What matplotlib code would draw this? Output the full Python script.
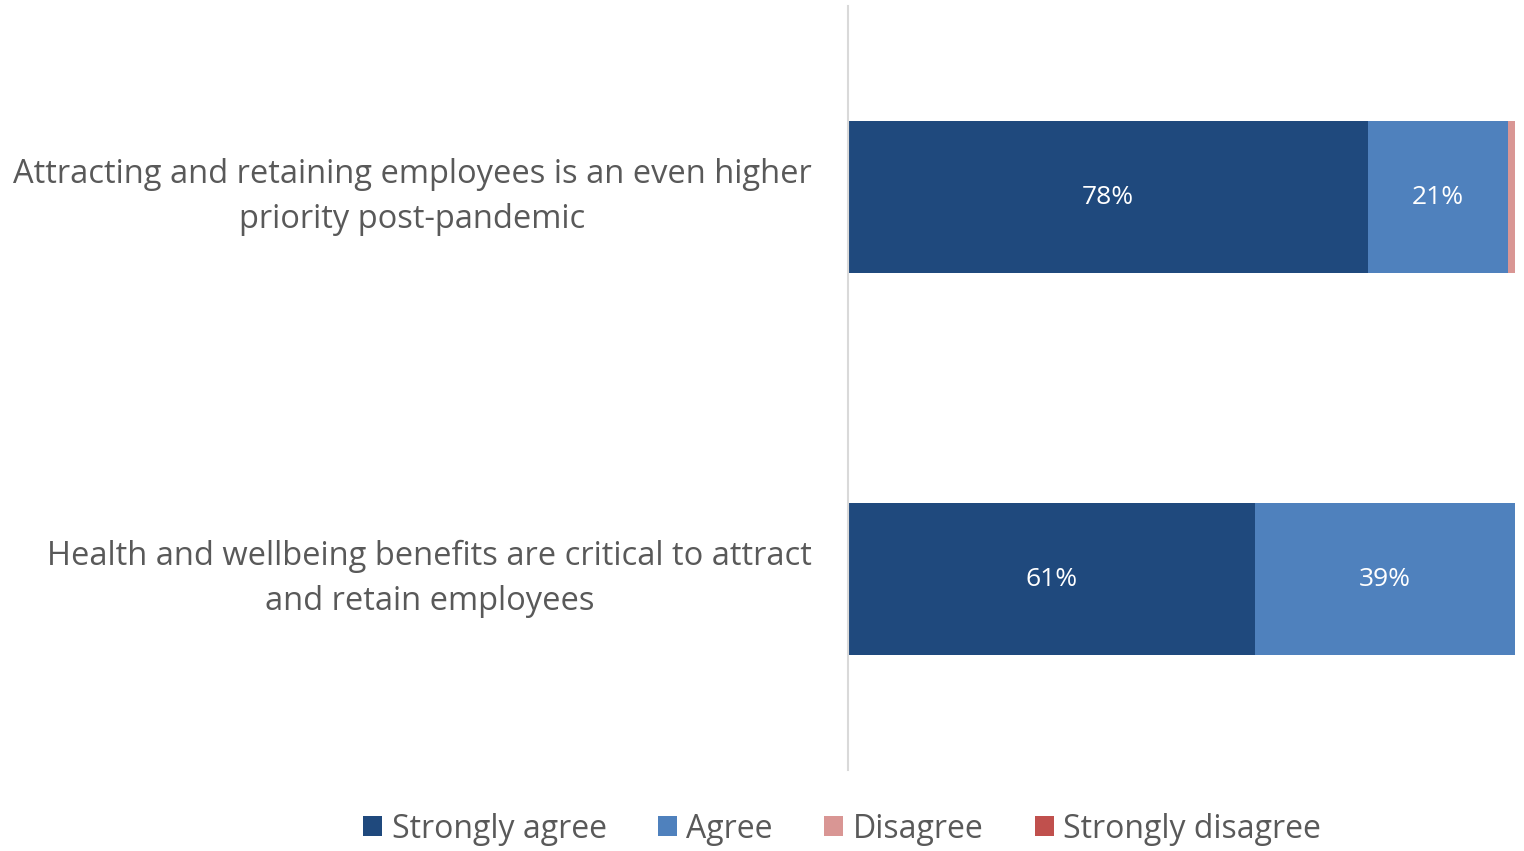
import matplotlib.pyplot as plt
import numpy as np

plt.rcParams['font.family'] = ['Open Sans', 'DejaVu Sans']

statements = ['Attracting and retaining employees is an even higher\npriority post-pandemic',
              'Health and wellbeing benefits are critical to attract\nand retain employees']
series = ['Strongly agree', 'Agree', 'Disagree', 'Strongly disagree']
strongly_agree = [78, 61]
agree = [21, 39]
disagree = [1, 0]
strongly_disagree = [0, 0]
colors = ['#1F497D', '#4F81BD', '#D99694', '#C0504D']

fig = plt.figure(figsize=(15.24, 8.51), dpi=100)
ax = fig.add_axes([848 / 1524, 1 - 770 / 851, 667 / 1524, 764 / 851])

y = np.arange(len(statements))
left = np.zeros(len(statements))
for name, vals, col in zip(series, [strongly_agree, agree, disagree, strongly_disagree], colors):
    vals = np.array(vals, dtype=float)
    ax.barh(y, vals, left=left, height=0.4, color=col, label=name)
    # only the wide segments get a percentage
    for yi, (l, v) in enumerate(zip(left, vals)):
        if v >= 5:
            ax.text(l + v / 2, yi, f'{v:.0f}%', ha='center', va='center',
                    color='white', fontsize=19)
    left += vals

ax.set_xlim(0, 100)
ax.set_ylim(1.5, -0.5)
ax.set_yticks(y)
ax.set_yticklabels(statements, fontsize=23.5, color='#595959', multialignment='center',
                   linespacing=1.45, va='center')
ax.tick_params(axis='y', length=0, pad=26)
ax.set_xticks([])
for s in ['top', 'right', 'bottom']:
    ax.spines[s].set_visible(False)
ax.spines['left'].set_color('#D9D9D9')
ax.spines['left'].set_linewidth(1.5)

fig.legend(loc='center', bbox_to_anchor=(842 / 1524, 1 - 829 / 851), ncol=4,
           frameon=False, fontsize=23, labelcolor='#595959',
           handlelength=0.6, handleheight=0.6, handletextpad=0.3, columnspacing=1.6)

fig.savefig('out.png', dpi=100)
